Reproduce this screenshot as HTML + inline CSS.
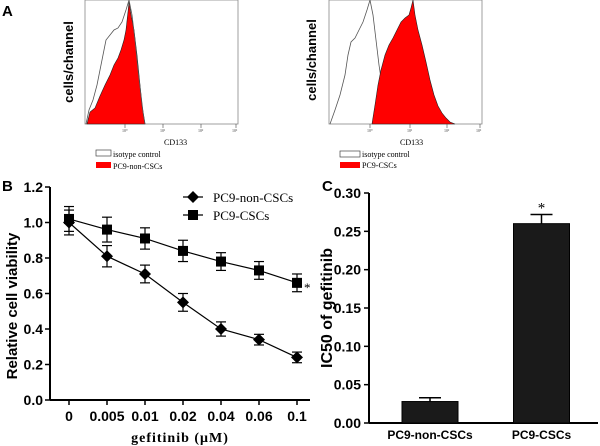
<!DOCTYPE html>
<html><head><meta charset="utf-8"><style>
body{margin:0;background:#fff;}
svg{display:block;font-family:"Liberation Sans",sans-serif;}
.serif{font-family:"Liberation Serif",serif;}
</style></head><body>
<svg id="fig" width="600" height="446" viewBox="0 0 600 446">
<text x="2" y="16" font-size="15" font-weight="bold">A</text>
<text x="2" y="191" font-size="15" font-weight="bold">B</text>
<text x="322" y="191" font-size="15" font-weight="bold">C</text>

<g>
<rect x="85" y="0" width="153" height="124" fill="none" stroke="#888" stroke-width="0.8"/>
<polygon fill="#f00" stroke="#222" stroke-width="0.6" points="87,124 90,112 95,108 100,96 105,85 110,75 114,65 118,58 121,50 124,40 126,30 128,12 129,2 131,15 134,30 137,55 140,85 142,105 144,118 145,124"/>
<polyline fill="none" stroke="#555" stroke-width="0.8" points="86,124 89,110 93,100 97,85 100,70 103,55 106,40 110,35 114,30 118,28 122,22 126,10 129,0 132,15 135,40 138,70 141,95 143,112 145,124"/>
<g stroke="#444" stroke-width="0.6"><line x1="125" y1="124" x2="125" y2="128"/><line x1="163" y1="124" x2="163" y2="128"/><line x1="201" y1="124" x2="201" y2="128"/><line x1="236" y1="124" x2="236" y2="128"/></g>
<g font-size="4" class="serif" fill="#444"><text x="122" y="132">10⁰</text><text x="160" y="132">10¹</text><text x="198" y="132">10²</text><text x="232" y="132">10³</text></g>
<text class="serif" x="164" y="145" font-size="8">CD133</text>
<text transform="translate(73,62) rotate(-90)" text-anchor="middle" font-size="13" font-weight="bold">cells/channel</text>
<rect x="96" y="150" width="15" height="6" fill="#fff" stroke="#444" stroke-width="0.7"/>
<text class="serif" x="113" y="157" font-size="8">isotype control</text>
<rect x="96" y="162" width="15" height="6" fill="#f00"/>
<text class="serif" x="113" y="169" font-size="8">PC9-non-CSCs</text>
</g>

<g>
<rect x="329" y="0" width="153" height="124" fill="none" stroke="#888" stroke-width="0.8"/>
<polyline fill="none" stroke="#555" stroke-width="0.8" points="330,124 335,110 340,95 345,75 348,55 351,42 355,38 359,30 363,22 367,10 370,0 373,15 376,40 379,65 382,85 385,100 387,115 390,124"/>
<polygon fill="#f00" stroke="#222" stroke-width="0.6" points="372,124 375,105 378,85 381,70 385,55 389,45 393,38 397,30 401,22 405,18 409,15 411,8 413,0 415,15 418,30 422,45 426,62 430,80 434,95 438,106 442,113 446,118 450,122 455,124"/>
<g stroke="#444" stroke-width="0.6"><line x1="370" y1="124" x2="370" y2="128"/><line x1="410" y1="124" x2="410" y2="128"/><line x1="447" y1="124" x2="447" y2="128"/><line x1="480" y1="124" x2="480" y2="128"/></g>
<g font-size="4" class="serif" fill="#444"><text x="367" y="132">10⁰</text><text x="407" y="132">10¹</text><text x="444" y="132">10²</text><text x="476" y="132">10³</text></g>
<text class="serif" x="400" y="145" font-size="8">CD133</text>
<text transform="translate(316,60) rotate(-90)" text-anchor="middle" font-size="13" font-weight="bold">cells/channel</text>
<rect x="340" y="151" width="20" height="6" fill="#fff" stroke="#444" stroke-width="0.7"/>
<text class="serif" x="362" y="157" font-size="8">isotype control</text>
<rect x="340" y="162" width="20" height="6" fill="#f00"/>
<text class="serif" x="362" y="168" font-size="8">PC9-CSCs</text>
</g>

<g id="panelB"></g>
<g id="panelC"></g>
</svg>
<script>
const bCategories=["0","0.005","0.01","0.02","0.04","0.06","0.1"];
const nonCSCs=[1.0,0.81,0.71,0.55,0.40,0.34,0.24];
const nonCSCsErr=[0.07,0.06,0.05,0.05,0.04,0.03,0.03];
const CSCs=[1.02,0.96,0.91,0.84,0.78,0.73,0.66];
const CSCsErr=[0.07,0.07,0.06,0.06,0.05,0.05,0.05];
const bTicks=[0,0.2,0.4,0.6,0.8,1.0,1.2];
const cCategories=["PC9-non-CSCs","PC9-CSCs"];
const cValues=[0.028,0.26];
const cErr=[0.005,0.012];
const cTicks=[0,0.05,0.10,0.15,0.20,0.25,0.30];

const NS="http://www.w3.org/2000/svg";
function mk(p,t,a,txt){const e=document.createElementNS(NS,t);for(const k in a)e.setAttribute(k,a[k]);if(txt!==undefined)e.textContent=txt;p.appendChild(e);return e;}

const B=document.getElementById('panelB');
const bx=i=>69+i*38, by=v=>400-v/1.2*213;
let e;
e=mk(B,'line',{x1:50,y1:by(1.2),x2:50,y2:400,stroke:'#000','stroke-width':2});


e=mk(B,'line',{x1:50,y1:400,x2:310,y2:400,stroke:'#000','stroke-width':2});


bTicks.forEach(t=>{mk(B,'line',{x1:45,y1:by(t),x2:50,y2:by(t),stroke:'#000','stroke-width':1.5});
 e=mk(B,'text',{x:43,y:by(t)+5,'text-anchor':'end','font-size':14,'font-weight':'bold'},t.toFixed(1));
 
 });
bCategories.forEach((c,i)=>{mk(B,'line',{x1:bx(i),y1:400,x2:bx(i),y2:405,stroke:'#000','stroke-width':1.5});
 e=mk(B,'text',{x:bx(i),y:421,'text-anchor':'middle','font-size':14,'font-weight':'bold'},c);
 
 });
e=mk(B,'text',{x:180,y:442,'text-anchor':'middle','font-size':14,'font-weight':'bold','class':'serif','letter-spacing':'1'},'gefitinib (μM)');


e=mk(B,'text',{transform:'translate(17,306) rotate(-90)','text-anchor':'middle','font-size':15,'font-weight':'bold'},'Relative cell viability');


function series(vals,errs,shape,name){
 mk(B,'polyline',{points:vals.map((v,i)=>bx(i)+','+by(v)).join(' '),fill:'none',stroke:'#000','stroke-width':1.2});
 vals.forEach((v,i)=>{const x=bx(i),y=by(v);
  mk(B,'line',{x1:x,y1:by(v+errs[i]),x2:x,y2:by(v-errs[i]),stroke:'#000','stroke-width':1.2});
  mk(B,'line',{x1:x-5,y1:by(v+errs[i]),x2:x+5,y2:by(v+errs[i]),stroke:'#000','stroke-width':1.2});
  mk(B,'line',{x1:x-5,y1:by(v-errs[i]),x2:x+5,y2:by(v-errs[i]),stroke:'#000','stroke-width':1.2});
  if(shape==='d')e=mk(B,'polygon',{points:`${x},${y-6} ${x+6},${y} ${x},${y+6} ${x-6},${y}`,fill:'#000'});
  else e=mk(B,'rect',{x:x-5,y:y-5,width:10,height:10,fill:'#000'});
  
  });
}
series(nonCSCs,nonCSCsErr,'d','non-cscs');
series(CSCs,CSCsErr,'s','cscs');
e=mk(B,'text',{x:304,y:by(CSCs[6])+9,'font-size':13,'class':'serif'},'*');


mk(B,'line',{x1:183,y1:197,x2:203,y2:197,stroke:'#000','stroke-width':1.2});
mk(B,'polygon',{points:'193,191 199,197 193,203 187,197',fill:'#000'});
e=mk(B,'text',{x:213,y:202,'font-size':13,'class':'serif'},'PC9-non-CSCs');


mk(B,'line',{x1:183,y1:215,x2:203,y2:215,stroke:'#000','stroke-width':1.2});
mk(B,'rect',{x:188,y:210,width:10,height:10,fill:'#000'});
e=mk(B,'text',{x:213,y:220,'font-size':13,'class':'serif'},'PC9-CSCs');



const C=document.getElementById('panelC');
const cy=v=>423-v/0.30*230;
const cx=i=>430+i*111.5;
e=mk(C,'line',{x1:369,y1:cy(0.30),x2:369,y2:423,stroke:'#000','stroke-width':2});


e=mk(C,'line',{x1:369,y1:423,x2:598,y2:423,stroke:'#000','stroke-width':2});


cTicks.forEach(t=>{mk(C,'line',{x1:364,y1:cy(t),x2:369,y2:cy(t),stroke:'#000','stroke-width':1.5});
 e=mk(C,'text',{x:361,y:cy(t)+5,'text-anchor':'end','font-size':14,'font-weight':'bold'},t.toFixed(2));
 
 });
e=mk(C,'text',{transform:'translate(332,308) rotate(-90)','text-anchor':'middle','font-size':16,'font-weight':'bold'},'IC50 of gefitinib');


cValues.forEach((v,i)=>{const x=cx(i);
 mk(C,'line',{x1:x,y1:cy(v),x2:x,y2:cy(v+cErr[i]),stroke:'#000','stroke-width':1.5});
 mk(C,'line',{x1:x-11,y1:cy(v+cErr[i]),x2:x+11,y2:cy(v+cErr[i]),stroke:'#000','stroke-width':1.5});
 e=mk(C,'rect',{x:x-28,y:cy(v),width:56,height:423-cy(v),fill:'#1a1a1a',stroke:'#000'});
 
 
 e=mk(C,'text',{x:x,y:439,'text-anchor':'middle','font-size':12,'font-weight':'bold'},cCategories[i]);
 
 });
e=mk(C,'text',{x:cx(1),y:cy(cValues[1]+cErr[1])-2,'text-anchor':'middle','font-size':15,'class':'serif'},'*');


</script>
</body></html>
